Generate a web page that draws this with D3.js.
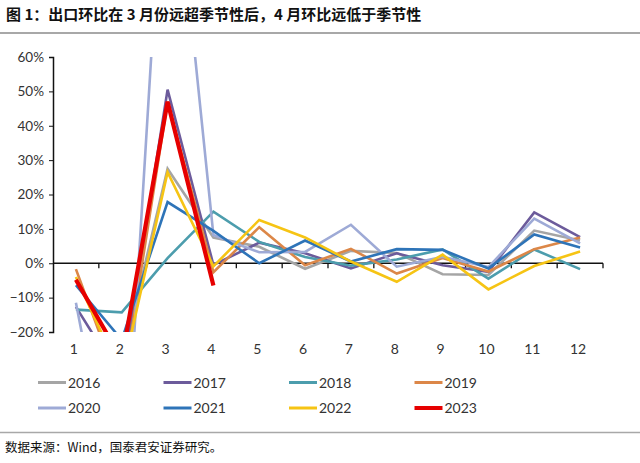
<!DOCTYPE html>
<html><head><meta charset="utf-8">
<script src="https://cdn.jsdelivr.net/npm/d3@7"></script>
<style>body{margin:0;background:#fff}svg{display:block}</style>
</head><body>
<script>
const months = ["1","2","3","4","5","6","7","8","9","10","11","12"];
const years = ["2016","2017","2018","2019","2020","2021","2022","2023"];
const colors = ["#a5a5a5","#6c5b9b","#4c9dad","#dc8748","#9eaad6","#2e74b8","#f6c414","#e60000"];
const yTicks = [-20,-10,0,10,20,30,40,50,60];
const v2016 = [-21, -29, 27.5, 7.5, 4.8, -1.6, 3.6, 3.0, -3.2, -3.4, 9.5, 6.6];
const v2017 = [-12.7, -34, 50.5, -0.5, 6.0, 2.9, -1.5, 2.9, -0.6, -2.5, 14.8, 7.6];
const v2018 = [-13.5, -14.3, 1.5, 15.0, 6.2, 1.8, -0.7, 1.1, 4.0, -4.5, 4.0, -1.7];
const v2019 = [-1.7, -37.8, 47.0, -2.6, 10.5, -0.6, 4.2, -3.0, 1.5, -2.4, 4.1, 7.5];
const v2020 = [-11.5, -80, 138, 8.2, 3.2, 3.3, 11.2, -1.0, 1.9, -1.1, 13.0, 5.8];
const v2021 = [-6.4, -22.3, 17.8, 9.4, 0.0, 6.6, 0.5, 4.1, 3.9, -1.5, 8.4, 4.6];
const v2022 = [-4.0, -33, 26.5, -0.9, 12.6, 7.5, 0.5, -5.4, 2.5, -7.6, -0.8, 3.4];
const v2023 = [-4.8, -28, 47.0, -6.5];
const seriesValues = [v2016,v2017,v2018,v2019,v2020,v2021,v2022,v2023];

const W = 640, H = 463;
const svg = d3.select("body").append("svg").attr("width", W).attr("height", H);
const cjk = "'Noto Sans CJK SC', sans-serif";
const lat = "Lato, 'Noto Sans', sans-serif";

svg.append("text").attr("x", 6).attr("y", 20)
  .attr("font-family", cjk).attr("font-weight", 700).attr("font-size", 15).attr("fill", "#111")
  .text("图 1：出口环比在 3 月份远超季节性后，4 月环比远低于季节性");
svg.append("line").attr("x1", 0).attr("x2", W).attr("y1", 33).attr("y2", 33)
  .attr("stroke", "#a8a8a8").attr("stroke-width", 2);
svg.append("line").attr("x1", 0).attr("x2", W).attr("y1", 432.5).attr("y2", 432.5)
  .attr("stroke", "#a8a8a8").attr("stroke-width", 1.5);
svg.append("text").attr("x", 5).attr("y", 452)
  .attr("font-family", cjk).attr("font-size", 12.5).attr("fill", "#111")
  .text("数据来源：Wind，国泰君安证券研究。");

const x = d3.scaleBand().domain(months).range([53, 603]).padding(0);
const y = d3.scaleLinear().domain([-20, 60]).range([332, 57]);

svg.append("defs").append("clipPath").attr("id", "plot")
  .append("rect").attr("x", 53).attr("y", 57).attr("width", 560).attr("height", 275);

// y axis
const yAxis = svg.append("g").attr("transform", "translate(53,0)")
  .call(d3.axisLeft(y).tickValues(yTicks).tickSize(4)
    .tickFormat(d => (d < 0 ? "\u2212" + Math.abs(d) : d) + "%"));
yAxis.select(".domain").attr("stroke", "#111").attr("stroke-width", 1.5);
yAxis.selectAll(".tick line").attr("stroke", "#111");
yAxis.selectAll(".tick text").attr("font-family", lat).attr("font-size", 13.5)
  .attr("fill", "#333").attr("x", -9);

// x axis at zero
const xg = svg.append("g").attr("transform", `translate(0,${y(0)})`);
xg.append("line").attr("x1", 53).attr("x2", 603).attr("y1", 0).attr("y2", 0)
  .attr("stroke", "#111").attr("stroke-width", 1.3);
xg.selectAll("line.tk").data(months).enter().append("line").attr("class", "tk")
  .attr("x1", d => x(d) + x.bandwidth()).attr("x2", d => x(d) + x.bandwidth())
  .attr("y1", 0).attr("y2", 5).attr("stroke", "#111").attr("stroke-width", 1.3);
svg.append("g").selectAll("text").data(months).enter().append("text")
  .attr("x", d => x(d) + x.bandwidth() / 2 - 2).attr("y", 354)
  .attr("text-anchor", "middle").attr("font-family", lat).attr("font-size", 14).attr("fill", "#333")
  .text(d => d);

// lines
const line = d3.line().x((d, i) => x(months[i]) + x.bandwidth() / 2).y(d => y(d));
const lg = svg.append("g").attr("clip-path", "url(#plot)");
seriesValues.forEach((vals, k) => {
  lg.append("path").datum(vals).attr("d", line).attr("fill", "none")
    .attr("stroke", colors[k]).attr("stroke-width", k === 7 ? 4.2 : 2.6)
    .attr("stroke-linejoin", "miter");
});

// legend
const leg = svg.append("g");
years.forEach((yr, k) => {
  const col = k % 4, row = Math.floor(k / 4);
  const lx = 38 + col * 125.5, ly = row === 0 ? 382.5 : 408;
  leg.append("line").attr("x1", lx).attr("x2", lx + 28).attr("y1", ly).attr("y2", ly)
    .attr("stroke", colors[k]).attr("stroke-width", k === 7 ? 4 : 3);
  leg.append("text").attr("x", lx + 30).attr("y", ly + 5)
    .attr("font-family", lat).attr("font-size", 14).attr("fill", "#333").text(yr);
});
</script>
</body></html>
